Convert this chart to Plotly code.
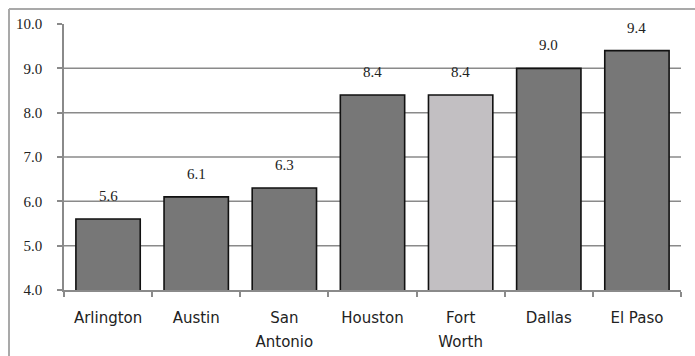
import plotly.graph_objects as go

# Category data
cities = ["Arlington", "Austin", "San Antonio", "Houston", "Fort Worth", "Dallas", "El Paso"]
tick_lines = [["Arlington"], ["Austin"], ["San", "Antonio"], ["Houston"],
              ["Fort", "Worth"], ["Dallas"], ["El Paso"]]
values = [5.6, 6.1, 6.3, 8.4, 8.4, 9.0, 9.4]
highlight = "Fort Worth"
y_ticks = [4.0, 5.0, 6.0, 7.0, 8.0, 9.0, 10.0]
grid_values = [5.0, 6.0, 7.0, 8.0, 9.0]

W, H = 695, 356
ML, MR, MT, MB = 64, 14, 24, 66
plot_w = W - ML - MR
plot_h = H - MT - MB

bar_colors = ["#c2bfc2" if c == highlight else "#777777" for c in cities]

fig = go.Figure()
fig.add_trace(go.Bar(
    x=cities,
    y=values,
    base=0,
    marker=dict(color=bar_colors, line=dict(color="#111111", width=1.6)),
    hoverinfo="x+y",
))

serif = "Liberation Serif, Times New Roman, serif"
sans = "DejaVu Sans, Arial, sans-serif"

# Value labels above each bar
for c, v in zip(cities, values):
    fig.add_annotation(
        x=c, y=v, text=f"{v:.1f}", showarrow=False,
        yanchor="bottom", yshift=13,
        font=dict(family=serif, size=15, color="#222222"),
    )

# Horizontal gridlines behind the bars
for g in grid_values:
    fig.add_shape(
        type="line", xref="paper", x0=0, x1=1, yref="y", y0=g, y1=g,
        line=dict(color="#8a8a8a", width=1.5), layer="below",
    )

# Outer frame: left and top edges
px2x = lambda px: (px - ML) / plot_w
py2y = lambda py: (H - MB - py) / plot_h
frame = dict(color="#a9a9a9", width=2)
fig.add_shape(type="line", xref="paper", yref="paper",
              x0=px2x(9), x1=px2x(9), y0=py2y(9), y1=py2y(H + 5), line=frame, layer="below")
fig.add_shape(type="line", xref="paper", yref="paper",
              x0=px2x(9), x1=px2x(W + 5), y0=py2y(9), y1=py2y(9), line=frame, layer="below")

# Tick labels: larger base size gives wider line spacing, spans keep glyphs smaller
tick_text = ["<br>".join(f'<span style="font-size:15px">{ln}</span>' for ln in lines)
             for lines in tick_lines]

fig.update_layout(
    width=W, height=H,
    margin=dict(l=ML, r=MR, t=MT, b=MB, pad=0),
    paper_bgcolor="white", plot_bgcolor="white",
    bargap=0.27,
    showlegend=False,
    xaxis=dict(
        tickmode="array", tickvals=cities, ticktext=tick_text,
        tickson="boundaries", ticks="outside", ticklen=5, tickcolor="#8a8a8a", tickwidth=1.5,
        showline=True, linecolor="#8a8a8a", linewidth=1.5,
        showgrid=False, automargin=False,
        tickfont=dict(family=sans, size=19, color="#222222"),
        ticklabelstandoff=8,
    ),
    yaxis=dict(
        range=[4, 10], tickvals=y_ticks,
        ticktext=[f"{t:.1f}" for t in y_ticks],
        ticks="outside", ticklen=5, tickcolor="#8a8a8a", tickwidth=1.5,
        showline=True, linecolor="#8a8a8a", linewidth=1.5,
        showgrid=False, zeroline=False, automargin=False,
        tickfont=dict(family=serif, size=15, color="#222222"),
        ticklabelstandoff=12,
    ),
)

fig.write_html("out.html")
